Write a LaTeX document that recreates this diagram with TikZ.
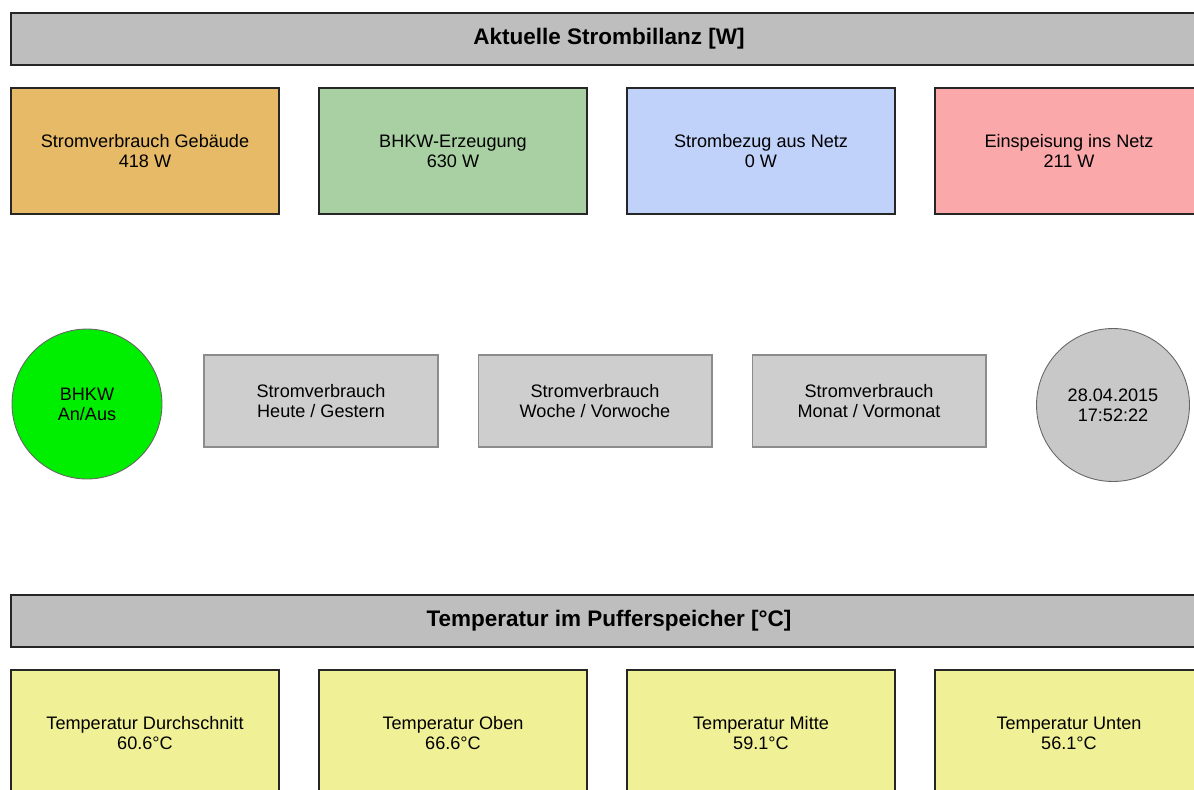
\documentclass[tikz,border=0pt]{standalone}
\usepackage{fontspec}
\setmainfont{Liberation Sans}

\definecolor{barGrey}{RGB}{190,190,190}
\definecolor{btnGrey}{RGB}{206,206,206}
\definecolor{clkGrey}{RGB}{200,200,200}
\definecolor{tileOrange}{RGB}{230,186,102}
\definecolor{tileGreen}{RGB}{168,208,162}
\definecolor{tileBlue}{RGB}{192,210,250}
\definecolor{tileRed}{RGB}{250,168,170}
\definecolor{tileYellow}{RGB}{240,240,150}
\definecolor{lampGreen}{RGB}{0,238,0}

\begin{document}
\begin{tikzpicture}[x=0.02cm,y=-0.02cm,
		bar/.style={draw=black!85, line width=1.1pt, fill=barGrey, minimum width=23.92cm, minimum height=1.04cm, font=\fontsize{12.8}{15}\selectfont\bfseries},
		tile/.style={draw=black!85, line width=1.1pt, minimum width=5.36cm, minimum height=2.52cm, align=center, font=\fontsize{10.3}{11.4}\selectfont},
		btn/.style={draw=black!45, line width=0.6pt, fill=btnGrey, minimum width=4.68cm, minimum height=1.84cm, align=center, font=\fontsize{10.3}{11.4}\selectfont},
		lamp/.style={circle, draw=black!60, line width=0.5pt, inner sep=0pt, align=center, font=\fontsize{10.3}{11.4}\selectfont}]
				
				\useasboundingbox (0,0) rectangle (1194,789);
				\clip (0,0) rectangle (1194,789);
				
				% Strombilanz
				\node[bar] (barStrom) at (609,39) {Aktuelle Strombillanz [W]};
				
				\node[tile, fill=tileOrange] (Verbrauch) at (145,151) {Stromverbrauch Gebäude\\418 W};
				\node[tile, fill=tileGreen] (Erzeugung) at (453,151) {BHKW-Erzeugung\\630 W};
				\node[tile, fill=tileBlue] (Bezug) at (761,151) {Strombezug aus Netz\\0 W};
				\node[tile, fill=tileRed] (Einspeisung) at (1069,151) {Einspeisung ins Netz\\211 W};
				
				% Schalter
				\node[lamp, fill=lampGreen, minimum size=3cm] (BHKW) at (87,404) {BHKW\\An/Aus};
				\node[btn] (Heute) at (321,401) {Stromverbrauch\\Heute / Gestern};
				\node[btn] (Woche) at (595,401) {Stromverbrauch\\Woche / Vorwoche};
				\node[btn] (Monat) at (869,401) {Stromverbrauch\\Monat / Vormonat};
				\node[lamp, fill=clkGrey, minimum size=3.06cm] (Uhr) at (1113,405) {28.04.2015\\17:52:22};
				
				% Pufferspeicher
				\node[bar] (barTemp) at (609,621) {Temperatur im Pufferspeicher [°C]};
				
				\node[tile, fill=tileYellow] (TDurch) at (145,733) {Temperatur Durchschnitt\\60.6°C};
				\node[tile, fill=tileYellow] (TOben) at (453,733) {Temperatur Oben\\66.6°C};
				\node[tile, fill=tileYellow] (TMitte) at (761,733) {Temperatur Mitte\\59.1°C};
				\node[tile, fill=tileYellow] (TUnten) at (1069,733) {Temperatur Unten\\56.1°C};
				
			\end{tikzpicture}
\end{document}
